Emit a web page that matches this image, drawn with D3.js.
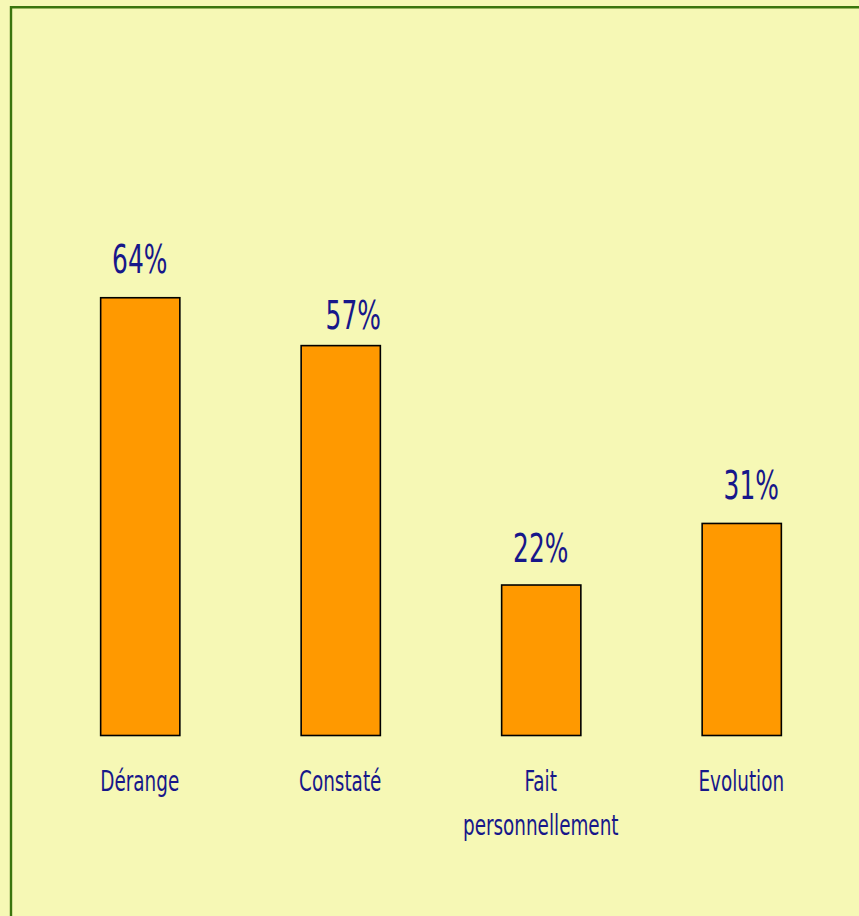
<!DOCTYPE html>
<html>
<head>
<meta charset="utf-8">
<script src="https://cdn.jsdelivr.net/npm/d3@7"></script>
<style>
  html, body { margin: 0; padding: 0; background: #f6f8b5; }
  svg { display: block; }
  text { font-family: "DejaVu Sans Condensed", "DejaVu Sans", sans-serif; fill: #17178a; }
</style>
</head>
<body>
<script>
// Survey answers, share of respondents (%)
const categories = ["Dérange", "Constaté", "Fait personnellement", "Evolution"];
const values = [64, 57, 22, 31];
const valueLabels = ["64%", "57%", "22%", "31%"];

const W = 859, H = 916;
const svg = d3.select("body").append("svg").attr("width", W).attr("height", H);

// Panel background and frame (left and top edges visible)
svg.append("rect").attr("x", 0).attr("y", 0).attr("width", W).attr("height", H).attr("fill", "#f6f8b5");
svg.append("path")
  .attr("d", `M11,${H} V7.2 H${W}`)
  .attr("fill", "none").attr("stroke", "#3a750d").attr("stroke-width", 2.4);

const x = d3.scaleBand().domain(categories).range([40, 841]).paddingInner(0.605).paddingOuter(0.3);
const y = d3.scaleLinear().domain([0, 100]).range([735, 51]);
const cx = d => x(d) + x.bandwidth() / 2;

// Bars
svg.selectAll("rect.bar").data(categories).join("rect")
  .attr("class", "bar")
  .attr("x", d => x(d) + 0.5)
  .attr("y", (d, i) => y(values[i]) + 0.5)
  .attr("width", x.bandwidth())
  .attr("height", (d, i) => y(0) - y(values[i]))
  .attr("fill", "#ff9900")
  .attr("stroke", "#000").attr("stroke-width", 1.6);

// Value labels above bars (narrow lettering: condensed face squeezed horizontally)
const labelShift = [0, 13, 0, 10];
const labelGap = [24, 16, 23, 24];
svg.selectAll("text.val").data(categories).join("text")
  .attr("class", "val")
  .attr("transform", (d, i) => `translate(${cx(d) + labelShift[i]},${y(values[i]) - labelGap[i]}) scale(0.71,1)`)
  .attr("text-anchor", "middle")
  .attr("font-size", 39)
  .text((d, i) => valueLabels[i]);

// Category labels under the bars, wrapping the long one
const wrap = { "Fait personnellement": ["Fait", "personnellement"] };
svg.selectAll("text.cat").data(categories).join("text")
  .attr("class", "cat")
  .attr("text-anchor", "middle")
  .attr("font-size", 28)
  .attr("transform", d => `translate(${cx(d)},791) scale(0.73,1)`)
  .each(function (d) {
    const lines = wrap[d] || [d];
    const t = d3.select(this);
    lines.forEach((ln, k) => {
      t.append("tspan")
        .attr("x", 0)
        .attr("dy", k === 0 ? 0 : 44)
        .text(ln);
    });
  });
</script>
</body>
</html>
